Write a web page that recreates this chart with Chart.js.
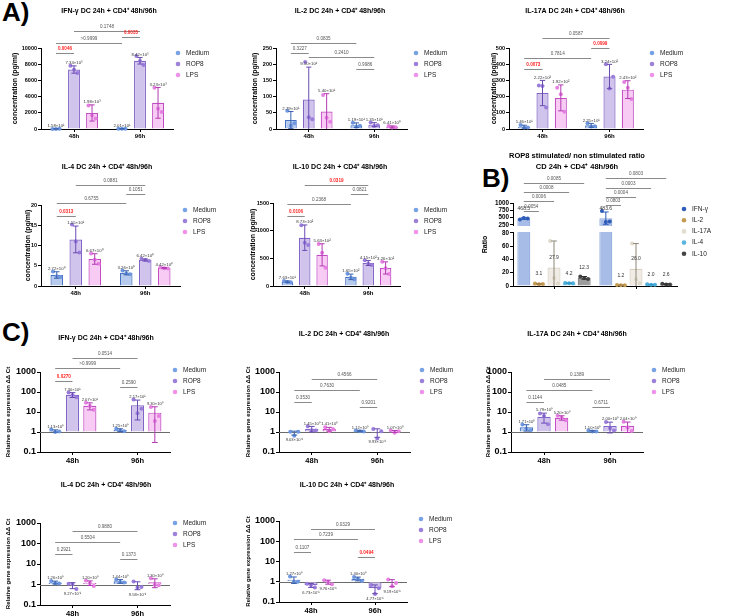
<!DOCTYPE html>
<html><head><meta charset="utf-8"><title>DC 24h + CD4+ 48h/96h cytokines</title>
<script src="https://cdn.jsdelivr.net/npm/chart.js@4.4.1/dist/chart.umd.min.js"></script>
<style>
html,body{margin:0;padding:0;background:#fff}
body{width:732px;height:616px;position:relative;overflow:hidden;font-family:"Liberation Sans",Arial,sans-serif}
canvas{position:absolute}
.tag{position:absolute;font-weight:bold;font-size:26px;line-height:1;color:#000}
</style></head><body>
<div class="tag" style="left:2px;top:-1px">A)</div>
<div class="tag" style="left:482px;top:165px">B)</div>
<div class="tag" style="left:2px;top:319px">C)</div>
<script>
// ================= categories =================
const GROUPS = ['48h', '96h'];
const TREATMENTS = ['Medium', 'ROP8', 'LPS'];
const RATIO_CYTOKINES = ['IFN-γ', 'IL-2', 'IL-17A', 'IL-4', 'IL-10'];
// bracket comparisons: [series, group, series, group]
const TREAT_COMPARISONS = [[0,0,1,0],[0,0,0,1],[1,0,1,1],[0,1,1,1]];
const RATIO_COMPARISONS = [[0,0,1,0],[0,0,2,0],[0,0,3,0],[0,0,4,0],[0,1,1,1],[0,1,2,1],[0,1,3,1],[0,1,4,1]];

// ================= tick labels =================
const LOG_TICKS = [0.1, 1, 10, 100, 1000];
const RATIO_TICKS = [0, 20, 40, 60, 80, 250, 500, 750, 1000];

// ================= A) concentration (pg/ml) — rows Medium, ROP8, LPS; cols 48h, 96h =================
const concIfngMean = [[15.8, 20.1], [7340, 8420], [1980, 3230]];
const concIfngSD   = [[5, 4], [450, 400], [1000, 1900]];
const concIfngPts  = [[[10, 15, 22], [17, 20, 23]], [[7800, 7300, 6900], [9000, 8400, 7900]], [[2900, 1700, 1300], [5100, 2500, 2100]]];
const concIfngP    = ['0.0046', '>0.9999', '0.1748', '0.0035'];
const concIfngSig  = [true, false, false, true];

const concIl2Mean = [[27.9, 11.9], [91.0, 13.5], [54.0, 6.41]];
const concIl2SD   = [[26, 7], [100, 6], [55, 3]];
const concIl2Pts  = [[[56, 10, 18], [19, 7, 10]], [[207, 36, 30], [20, 9, 11.5]], [[105, 35, 22], [9.5, 4.5, 5.2]]];
const concIl2P    = ['0.3227', '0.0835', '0.2410', '0.9986'];
const concIl2Sig  = [false, false, false, false];

const concIl17Mean = [[14.6, 22.5], [222, 324], [192, 243]];
const concIl17SD   = [[9, 12], [78, 75], [80, 55]];
const concIl17Pts  = [[[25, 9, 10], [36, 15, 17]], [[268, 265, 133], [400, 250, 322]], [[255, 215, 106], [290, 255, 185]]];
const concIl17P    = ['0.0073', '0.7814', '0.0587', '0.0099'];
const concIl17Sig  = [true, false, false, true];

const concIl4Mean = [[2.72, 3.26], [11.5, 6.42], [6.67, 4.42]];
const concIl4SD   = [[0.8, 0.5], [3.3, 0.25], [1.3, 0.15]];
const concIl4Pts  = [[[3.6, 2.4, 2.2], [3.8, 3.1, 2.9]], [[15.2, 11.0, 8.3], [6.7, 6.4, 6.2]], [[8.0, 6.5, 5.5], [4.6, 4.4, 4.3]]];
const concIl4P    = ['0.0313', '0.6755', '0.0881', '0.1051'];
const concIl4Sig  = [true, false, false, false];

const concIl10Mean = [[76.3, 165], [873, 415], [563, 326]];
const concIl10SD   = [[15, 50], [230, 45], [200, 110]];
const concIl10Pts  = [[[90, 72, 67], [222, 150, 123]], [[1100, 780, 740], [465, 400, 380]], [[760, 600, 330], [440, 320, 218]]];
const concIl10P    = ['0.0106', '0.2368', '0.0319', '0.0821'];
const concIl10Sig  = [true, false, true, false];

// ================= B) ROP8 stimulated / non stimulated ratio — rows IFN-γ, IL-2, IL-17A, IL-4, IL-10 =================
const ratioMean = [[468.5, 483.6], [3.1, 1.2], [27.9, 26.0], [4.2, 2.0], [12.3, 2.6]];
const ratioSD   = [[30, 210], [0.7, 0.3], [40, 38], [0.4, 0.5], [2.0, 0.8]];
const ratioPts  = [[[440, 490, 475.5], [727, 352, 372]], [[3.8, 2.6, 2.9], [1.5, 1.0, 1.1]], [[68, 12, 3.7], [64, 10, 4]], [[4.6, 4.0, 4.0], [2.5, 1.8, 1.7]], [[14.2, 12.0, 10.7], [3.4, 2.2, 2.2]]];
const ratioP    = ['0.0054', '0.0006', '0.0008', '0.0085', '0.0803', '0.0004', '0.0003', '0.0803'];
const ratioSig  = [false, false, false, false, false, false, false, false];

// ================= C) relative gene expression ΔΔCt =================
const geneIfngMean = [[1.13, 1.25], [73.0, 21.7], [20.7, 9.30]];
const geneIfngSD   = [[0.15, 0.2], [20, 17.7], [8, 9.0]];
const geneIfngPts  = [[[1.35, 1.0, 1.05], [1.45, 1.2, 1.1]], [[95, 70, 54], [42, 8.6, 14.5]], [[29, 20, 13], [18, 3.5, 6.4]]];
const geneIfngP    = ['0.0270', '>0.9999', '0.0514', '0.2590'];
const geneIfngSig  = [true, false, false, false];

const geneIl2Mean = [[0.903, 1.12], [1.45, 0.993], [1.41, 1.07]];
const geneIl2SD   = [[0.2, 0.08], [0.45, 0.45], [0.3, 0.12]];
const geneIl2Pts  = [[[1.02, 0.65, 1.04], [1.2, 1.1, 1.06]], [[1.95, 1.2, 1.2], [1.4, 0.48, 1.1]], [[1.75, 1.1, 1.38], [1.2, 0.92, 1.09]]];
const geneIl2P    = ['0.3530', '0.7630', '0.4566', '0.9201'];
const geneIl2Sig  = [false, false, false, false];

const geneIl17Mean = [[1.71, 1.10], [5.79, 2.00], [5.20, 2.04]];
const geneIl17SD   = [[0.6, 0.1], [3.0, 1.1], [1.3, 1.1]];
const geneIl17Pts  = [[[2.4, 1.5, 1.23], [1.2, 1.05, 1.05]], [[8.5, 6.4, 2.47], [3.2, 1.6, 1.2]], [[6.5, 5.2, 3.9], [3.3, 1.7, 1.12]]];
const geneIl17P    = ['0.1144', '0.0485', '0.1389', '0.6711'];
const geneIl17Sig  = [false, false, false, false];

const geneIl4Mean = [[1.26, 1.44], [0.927, 0.958], [1.20, 1.30]];
const geneIl4SD   = [[0.2, 0.3], [0.3, 0.4], [0.3, 0.6]];
const geneIl4Pts  = [[[1.5, 1.15, 1.13], [1.75, 1.32, 1.25]], [[1.1, 1.07, 0.61], [1.4, 0.72, 0.75]], [[1.55, 1.2, 0.85], [2.0, 0.98, 0.92]]];
const geneIl4P    = ['0.2921', '0.5504', '0.9880', '0.1373'];
const geneIl4Sig  = [false, false, false, false];

const geneIl10Mean = [[1.27, 1.40], [0.673, 0.477], [0.976, 0.919]];
const geneIl10SD   = [[0.45, 0.3], [0.15, 0.22], [0.22, 0.35]];
const geneIl10Pts  = [[[1.8, 1.0, 1.01], [1.72, 1.38, 1.1]], [[0.8, 0.7, 0.52], [0.7, 0.25, 0.48]], [[1.2, 0.98, 0.75], [1.3, 0.6, 0.86]]];
const geneIl10P    = ['0.1107', '0.7239', '0.0329', '0.0494'];
const geneIl10Sig  = [false, false, false, true];

// ================= styles =================
const FONT = '"Liberation Sans", Arial, Helvetica, sans-serif';
Chart.defaults.font.family = FONT;
const TREAT_STYLE = [
  {fill:'#b5caec', border:'#4672c2', point:'#6f97e0', err:'#3a62ae', legend:'#78a2e6'},
  {fill:'#d1c4ec', border:'#8264c6', point:'#9a7cdb', err:'#6a4bb2', legend:'#9c80da'},
  {fill:'#f7cbf4', border:'#c24cc2', point:'#e681e2', err:'#b33ab3', legend:'#ee92ea'}
];
const RATIO_STYLE = [
  {fill:'#a7bce6', border:'#8ea9dd', point:'#2e5cb8', err:'#2e5cb8', legend:'#2f5db7'},
  {fill:'#e8d6b2', border:'#cfb27c', point:'#c49a52', err:'#a8834a', legend:'#c49a52'},
  {fill:'#f0ece5', border:'#d8d1c2', point:'#e0d9c9', err:'#8d8779', legend:'#e3ddcf'},
  {fill:'#aad9ee', border:'#7dc2e2', point:'#4aaedb', err:'#3399c8', legend:'#5bb5de'},
  {fill:'#9c9c9c', border:'#7a7a7a', point:'#444444', err:'#333333', legend:'#444444'}
];

// ================= broken y-axis for panel B =================
class BrokenScale extends Chart.LinearScale {
  getPixelForValue(v) {
    if (v === null || v === undefined || isNaN(v)) return NaN;
    const [lowMax, highMin] = this.options.breakRange;
    const [fLow, fGap] = this.options.breakFractions;
    let d;
    if (v <= lowMax) d = (v - this.min) / (lowMax - this.min) * fLow;
    else if (v <= highMin) d = fLow + (v - lowMax) / (highMin - lowMax) * fGap;
    else d = fLow + fGap + (v - highMin) / (this.max - highMin) * (1 - fLow - fGap);
    return this.getPixelForDecimal(d);
  }
  getValueForPixel(p) {
    const d = this.getDecimalForPixel(p);
    const [lowMax, highMin] = this.options.breakRange;
    const [fLow, fGap] = this.options.breakFractions;
    if (d <= fLow) return this.min + d / fLow * (lowMax - this.min);
    if (d <= fLow + fGap) return lowMax + (d - fLow) / fGap * (highMin - lowMax);
    return highMin + (d - fLow - fGap) / (1 - fLow - fGap) * (this.max - highMin);
  }
}
BrokenScale.id = 'broken';
BrokenScale.defaults = Chart.LinearScale.defaults;
Chart.register(BrokenScale);

// ================= helpers =================
const SUP = {'0':'⁰','1':'¹','2':'²','3':'³','4':'⁴','5':'⁵','6':'⁶','7':'⁷','8':'⁸','9':'⁹','-':'⁻'};
function sci(v) {
  const parts = v.toExponential(2).split('e');
  const ex = String(parseInt(parts[1], 10));
  return parts[0] + '×10' + ex.split('').map(c => SUP[c]).join('');
}

function decor(spec) {
  return {
    id: 'decor',
    beforeDatasetsDraw(chart) {
      if (spec.refLine == null) return;
      const ctx = chart.ctx, a = chart.chartArea;
      const y = Math.round(chart.scales.y.getPixelForValue(spec.refLine)) + 0.5;
      ctx.save(); ctx.strokeStyle = '#6b6b6b'; ctx.lineWidth = 1.2;
      ctx.beginPath(); ctx.moveTo(a.left, y); ctx.lineTo(a.right, y); ctx.stroke(); ctx.restore();
    },
    afterDatasetsDraw(chart) {
      const ctx = chart.ctx, a = chart.chartArea, ys = chart.scales.y;
      const ox = spec.canvas[0], oy = spec.canvas[1];
      ctx.save();
      if (spec.gap) {
        const yTop = ys.getPixelForValue(spec.gap[1]), yBot = ys.getPixelForValue(spec.gap[0]);
        ctx.fillStyle = '#fff';
        ctx.fillRect(a.left - 1.5, yTop + 1, a.right - a.left + 2, yBot - yTop - 2);
      }
      const lowLimit = spec.kind === 'log' ? ys.min : 0;
      spec.mean.forEach((row, i) => {
        const st = spec.styles[i];
        const meta = chart.getDatasetMeta(i);
        row.forEach((m, j) => {
          const bar = meta.data[j];
          const x = bar.x, w = bar.width;
          const sd = spec.sd[i][j], pts = spec.pts[i][j];
          ctx.fillStyle = st.point;
          pts.forEach((v, k) => {
            const px = x + (k - (pts.length - 1) / 2) * w * 0.3;
            const py = ys.getPixelForValue(v);
            ctx.beginPath(); ctx.arc(px, py, 2, 0, Math.PI * 2); ctx.fill();
          });
          const hi = ys.getPixelForValue(m + sd);
          const loV = m - sd;
          const lo = ys.getPixelForValue(loV > lowLimit ? loV : lowLimit);
          const cap = w * 0.22;
          ctx.strokeStyle = st.err; ctx.lineWidth = 1;
          ctx.beginPath();
          ctx.moveTo(x, hi); ctx.lineTo(x, lo);
          ctx.moveTo(x - cap, hi); ctx.lineTo(x + cap, hi);
          if (loV > lowLimit) { ctx.moveTo(x - cap, lo); ctx.lineTo(x + cap, lo); }
          ctx.stroke();
          let ly;
          if (spec.kind === 'ratio') ly = ys.getPixelForValue(m) - 10;
          else if (spec.kind === 'log' && m < 1) ly = lo + 5;
          else ly = hi - 3;
          ctx.fillStyle = '#333';
          ctx.font = spec.labelFont + 'px ' + FONT;
          ctx.textAlign = 'center'; ctx.textBaseline = 'middle';
          ctx.fillText(spec.kind === 'ratio' ? m.toFixed(1) : sci(m), x, ly);
        });
      });
      // significance brackets
      spec.comparisons.forEach((c, k) => {
        const x1 = chart.getDatasetMeta(c[0]).data[c[1]].x;
        const x2 = chart.getDatasetMeta(c[2]).data[c[3]].x;
        const y = Math.round(ys.getPixelForValue(spec.bracketY[k])) + 0.5;
        ctx.strokeStyle = '#8a8a8a'; ctx.lineWidth = 1;
        ctx.beginPath(); ctx.moveTo(x1, y); ctx.lineTo(x2, y); ctx.stroke();
        ctx.fillStyle = spec.sig[k] ? '#ff1f1f' : '#555';
        ctx.font = (spec.sig[k] ? 'bold ' : '') + '4.6px ' + FONT;
        ctx.textAlign = 'center'; ctx.textBaseline = 'middle';
        ctx.fillText(spec.p[k], (x1 + x2) / 2, y - 5);
      });
      // legend
      chart.data.datasets.forEach((ds, i) => {
        const lx = spec.legendPos[0] - ox, ly = spec.legendPos[1] - oy + i * spec.legendGap;
        ctx.fillStyle = spec.styles[i].legend;
        ctx.beginPath(); ctx.arc(lx, ly, 2.3, 0, Math.PI * 2); ctx.fill();
        ctx.fillStyle = '#222'; ctx.font = '6.5px ' + FONT;
        ctx.textAlign = 'left'; ctx.textBaseline = 'middle';
        ctx.fillText(ds.label, lx + 8, ly);
      });
      // title
      ctx.fillStyle = '#000'; ctx.font = 'bold ' + spec.titleFont + 'px ' + FONT;
      ctx.textAlign = 'center'; ctx.textBaseline = 'middle';
      spec.title.forEach((t, i) => ctx.fillText(t, spec.titlePos[0] - ox, spec.titlePos[1] - oy + i * 10.5));
      ctx.restore();
    }
  };
}

const KIND = {
  conc:  {yTitle:'concentration (pg/ml)', yTitleFont:7, tickFont:5.5, xFont:6, cat:0.82, bar:0.66, labelFont:4.3, titleFont:7},
  log:   {yTitle:'Relative gene expression ΔΔ Ct', yTitleFont:6, tickFont:9, xFont:7.5, cat:0.8, bar:0.76, labelFont:4.1, titleFont:7, base:1, refLine:1},
  ratio: {yTitle:'Ratio', yTitleFont:7, tickFont:6.3, xFont:6, cat:0.92, bar:0.86, labelFont:5, titleFont:7.5, noXLabels:true}
};

function build(spec) {
  const k = KIND[spec.kind];
  Object.keys(k).forEach(key => { if (spec[key] === undefined) spec[key] = k[key]; });
  const [cx, cy, cw, ch] = spec.canvas;
  const [al, at, ar, ab] = spec.area;
  const cv = document.createElement('canvas');
  cv.width = cw; cv.height = ch;
  cv.style.left = cx + 'px'; cv.style.top = cy + 'px';
  cv.style.width = cw + 'px'; cv.style.height = ch + 'px';
  document.body.appendChild(cv);
  const lh = spec.yTitleFont * 1.2;
  const padLeft = Math.max(0, spec.yTitleX - lh / 2 - cx);
  const yWidth = al - cx - padLeft;
  const xHeight = cy + ch - ab;
  const tickFontY = {family: FONT, size: spec.tickFont, weight: 'bold'};
  let yScale;
  if (spec.kind === 'conc') {
    yScale = {type:'linear', min:0, max:spec.yMax,
      ticks:{stepSize:spec.yStep, color:'#000', font:tickFontY, padding:1, autoSkip:false, callback: v => String(v)}};
  } else if (spec.kind === 'log') {
    yScale = {type:'logarithmic', min:0.1, max:1000,
      afterBuildTicks: s => { s.ticks = LOG_TICKS.map(v => ({value:v})); },
      ticks:{color:'#000', font:tickFontY, padding:1, autoSkip:false, callback: v => String(v)}};
  } else {
    yScale = {type:'broken', min:0, max:1000, breakRange:[80, 250], breakFractions:[0.639, 0.096],
      afterBuildTicks: s => { s.ticks = RATIO_TICKS.map(v => ({value:v})); },
      ticks:{color:'#000', font:tickFontY, padding:1, autoSkip:false, callback: v => String(v)}};
  }
  Object.assign(yScale, {
    grid:{display:true, drawOnChartArea:false, drawTicks:true, tickLength:3, color:'#000', lineWidth:1},
    border:{display:true, color:'#000', width:1},
    title:{display:true, text:spec.yTitle, color:'#000', padding:0, font:{family:FONT, size:spec.yTitleFont, weight:'bold'}},
    afterFit: s => { s.width = yWidth; }
  });
  new Chart(cv, {
    type:'bar',
    data:{
      labels: GROUPS,
      datasets: spec.series.map((name, i) => {
        const d = {label:name, data:spec.mean[i], backgroundColor:spec.styles[i].fill, borderColor:spec.styles[i].border,
          borderWidth:1.2, categoryPercentage:spec.cat, barPercentage:spec.bar};
        if (spec.base !== undefined) d.base = spec.base;
        return d;
      })
    },
    options:{
      responsive:false, animation:false, devicePixelRatio:1, events:[],
      layout:{padding:{left:padLeft, top:at - cy, right:cx + cw - ar, bottom:0}},
      plugins:{legend:{display:false}, tooltip:{enabled:false}, title:{display:false}},
      scales:{
        x:{type:'category', offset:true,
          grid:{display:true, drawOnChartArea:false, drawTicks:true, tickLength:3, color:'#000', offset:false},
          border:{display:true, color:'#000', width:1},
          ticks:{display:!spec.noXLabels, color:'#000', font:{family:FONT, size:spec.xFont, weight:'bold'}, padding:1, maxRotation:0, autoSkip:false},
          afterFit: s => { s.height = xHeight; }},
        y: yScale
      }
    },
    plugins:[decor(spec)]
  });
}

// ================= panels (layout kept separate from data) =================
const T = s => s + ' DC 24h + CD4⁺ 48h/96h';
const treat = {series:TREATMENTS, styles:TREAT_STYLE, comparisons:TREAT_COMPARISONS, legendGap:11};
const PANELS = [
  Object.assign({kind:'conc', title:[T('IFN-γ')], mean:concIfngMean, sd:concIfngSD, pts:concIfngPts, p:concIfngP, sig:concIfngSig, yMax:10000, yStep:2000,
    canvas:[0,0,240,142], area:[41,48,173,129], yTitleX:15, titlePos:[109,11], legendPos:[178,53], bracketY:[9400,10600,12100,11350]}, treat),
  Object.assign({kind:'conc', title:[T('IL-2')], mean:concIl2Mean, sd:concIl2SD, pts:concIl2Pts, p:concIl2P, sig:concIl2Sig, yMax:250, yStep:50,
    canvas:[240,0,240,142], area:[276,48,407,129], yTitleX:255, titlePos:[340,11], legendPos:[416,53], bracketY:[235,265,222,185]}, treat),
  Object.assign({kind:'conc', title:[T('IL-17A')], mean:concIl17Mean, sd:concIl17SD, pts:concIl17Pts, p:concIl17P, sig:concIl17Sig, yMax:500, yStep:100,
    canvas:[480,0,252,142], area:[509,48,643,129], yTitleX:494, titlePos:[575,11], legendPos:[652,53], bracketY:[370,438,562,500]}, treat),
  Object.assign({kind:'conc', title:[T('IL-4')], mean:concIl4Mean, sd:concIl4SD, pts:concIl4Pts, p:concIl4P, sig:concIl4Sig, yMax:20, yStep:5,
    canvas:[0,142,240,158], area:[41,205,180,286], yTitleX:28, titlePos:[107,167], legendPos:[185,210], bracketY:[17.3,20.5,24.9,22.7]}, treat),
  Object.assign({kind:'conc', title:[T('IL-10')], mean:concIl10Mean, sd:concIl10SD, pts:concIl10Pts, p:concIl10P, sig:concIl10Sig, yMax:1500, yStep:500,
    canvas:[240,142,240,158], area:[273,203,400,286], yTitleX:253, titlePos:[340,167], legendPos:[416,210], bracketY:[1265,1482,1825,1662]}, treat),
  {kind:'ratio', title:['ROP8 stimulated/ non stimulated ratio', 'CD 24h + CD4⁺ 48h/96h'], series:RATIO_CYTOKINES, styles:RATIO_STYLE,
    comparisons:RATIO_COMPARISONS, mean:ratioMean, sd:ratioSD, pts:ratioPts, p:ratioP, sig:ratioSig, gap:[80, 250],
    canvas:[480,142,252,158], area:[513,203,677,286], yTitleX:485, titlePos:[577,156], legendPos:[684,209], legendGap:11.2,
    bracketY:[727,1068,1375,1682,932,1205,1512,1852]},
  Object.assign({kind:'log', title:[T('IFN-γ')], mean:geneIfngMean, sd:geneIfngSD, pts:geneIfngPts, p:geneIfngP, sig:geneIfngSig,
    canvas:[0,300,240,168], area:[40,372,170,452], yTitleX:8, titlePos:[106,338], legendPos:[175,370], bracketY:[355,1585,5000,178]}, treat),
  Object.assign({kind:'log', title:[T('IL-2')], mean:geneIl2Mean, sd:geneIl2SD, pts:geneIl2Pts, p:geneIl2P, sig:geneIl2Sig,
    canvas:[240,300,240,168], area:[279,372,410,452], yTitleX:248, titlePos:[344,334], legendPos:[422,370], bracketY:[32,126,447,18]}, treat),
  Object.assign({kind:'log', title:[T('IL-17A')], mean:geneIl17Mean, sd:geneIl17SD, pts:geneIl17Pts, p:geneIl17P, sig:geneIl17Sig,
    canvas:[480,300,252,168], area:[511,372,643,452], yTitleX:488, titlePos:[577,334], legendPos:[654,370], bracketY:[32,126,447,18]}, treat),
  Object.assign({kind:'log', title:[T('IL-4')], mean:geneIl4Mean, sd:geneIl4SD, pts:geneIl4Pts, p:geneIl4P, sig:geneIl4Sig,
    canvas:[0,468,240,148], area:[40,523,170,605], yTitleX:8, titlePos:[106,485], legendPos:[175,523], bracketY:[30,117,407,17]}, treat),
  Object.assign({kind:'log', title:[T('IL-10')], mean:geneIl10Mean, sd:geneIl10SD, pts:geneIl10Pts, p:geneIl10P, sig:geneIl10Sig,
    canvas:[240,468,240,148], area:[279,521,407,602], yTitleX:248, titlePos:[347,485], legendPos:[421,519], bracketY:[30,131,407,17]}, treat)
];
PANELS.forEach(build);
</script>
</body></html>
